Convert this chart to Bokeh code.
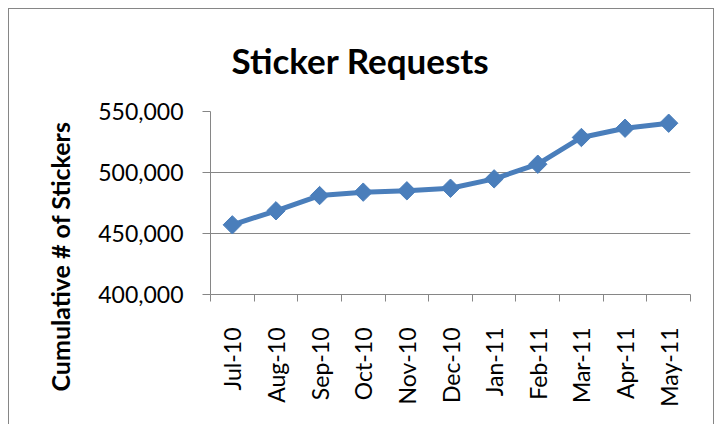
import math
from bokeh.plotting import figure
from bokeh.models import Range1d, FixedTicker, NumeralTickFormatter, Title
from bokeh.embed import file_html
from bokeh.resources import INLINE

months = ["Jul-10", "Aug-10", "Sep-10", "Oct-10", "Nov-10", "Dec-10",
          "Jan-11", "Feb-11", "Mar-11", "Apr-11", "May-11"]
stickers = [457100, 468600, 481100, 483900, 485000, 487100,
            494800, 506800, 528700, 536300, 540400]
y_ticks = [400000, 450000, 500000, 550000]

xs = list(range(len(months)))
FONT = "Lato"
GRID = "#868686"
BLUE = "#4A7EBB"

p = figure(width=706, height=416, output_backend="svg", toolbar_location=None,
           x_range=Range1d(-0.5, len(months) - 0.5),
           y_range=Range1d(y_ticks[0], y_ticks[-1]),
           min_border_left=201, min_border_right=25,
           min_border_top=101, min_border_bottom=131)
p.styles = {"border-top": "1px solid #868686", "border-left": "1px solid #868686",
            "border-right": "1px solid #868686", "box-sizing": "border-box",
            "margin-left": "8px", "margin-top": "8px"}
p.outline_line_color = None
p.background_fill_color = "white"
p.border_fill_color = "white"

t = Title(text="Sticker Requests", align="left", offset=21, text_font=FONT,
          text_font_size="35px", text_font_style="bold", text_color="black",
          vertical_align="top", standoff=58)
p.add_layout(t, "above")

ytitle = Title(text="Cumulative # of Stickers", align="left", offset=-97,
               text_font=FONT, text_font_size="25px", text_font_style="bold",
               text_color="black", standoff=42)
p.add_layout(ytitle, "left")

p.line(xs, stickers, line_color=BLUE, line_width=5)
p.scatter(xs, stickers, marker="square", size=13, angle=math.pi / 4,
          fill_color=BLUE, line_color=BLUE)

# x axis
p.xaxis.ticker = FixedTicker(ticks=xs, minor_ticks=[i - 0.5 for i in range(len(months) + 1)])
p.xaxis.major_label_overrides = {i: m for i, m in enumerate(months)}
p.xaxis.major_label_orientation = math.pi / 2
p.xaxis.major_tick_line_color = None
p.xaxis.minor_tick_line_color = GRID
p.xaxis.minor_tick_out = 7
p.xaxis.minor_tick_in = 0
p.xaxis.axis_line_color = GRID
p.xaxis.major_label_text_font = FONT
p.xaxis.major_label_text_font_size = "23px"
p.xaxis.major_label_text_color = "black"
p.xaxis.major_label_standoff = 26
p.xgrid.grid_line_color = None

# y axis
p.yaxis.ticker = FixedTicker(ticks=y_ticks)
p.yaxis.formatter = NumeralTickFormatter(format="0,0")
p.yaxis.axis_line_color = GRID
p.yaxis.major_tick_line_color = GRID
p.yaxis.major_tick_out = 8
p.yaxis.major_tick_in = 0
p.yaxis.minor_tick_line_color = None
p.yaxis.major_label_text_font = FONT
p.yaxis.major_label_text_font_size = "23px"
p.yaxis.major_label_text_color = "black"
p.yaxis.major_label_standoff = 19
p.ygrid.grid_line_color = GRID
p.ygrid.grid_line_width = 1

open("out.html", "w").write(file_html(p, INLINE))
